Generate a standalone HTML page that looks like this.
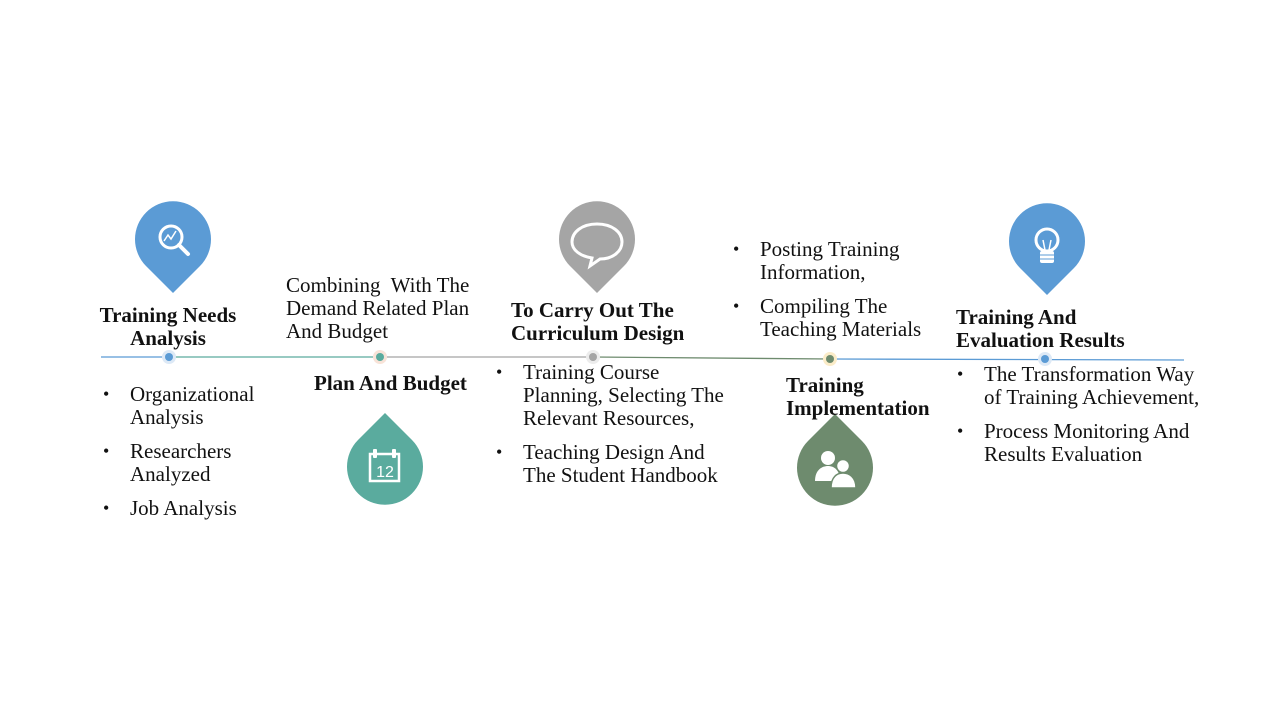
<!DOCTYPE html>
<html><head><meta charset="utf-8">
<style>
html,body{margin:0;padding:0;background:#fff;}
body{width:1280px;height:720px;position:relative;overflow:hidden;font-family:"Liberation Serif",serif;color:#111;}
.t{position:absolute;font-size:21px;line-height:23px;white-space:nowrap;}
.b{font-weight:bold;}
.li{position:absolute;font-size:21px;line-height:23px;white-space:nowrap;}
.li:before{content:"•";position:absolute;left:-27px;font-size:18px;}
svg{position:absolute;left:0;top:0;}
</style></head><body>
<svg width="1280" height="720">
  <line x1="101" y1="357" x2="169" y2="357" stroke="#5b9bd5" stroke-width="1.3"/>
  <line x1="169" y1="357" x2="380" y2="357" stroke="#5aab9e" stroke-width="1.3"/>
  <line x1="380" y1="357" x2="593" y2="357" stroke="#a5a5a5" stroke-width="1.3"/>
  <line x1="593" y1="357" x2="830" y2="359" stroke="#6e8b6e" stroke-width="1.3"/>
  <line x1="830" y1="359" x2="1184" y2="360" stroke="#5b9bd5" stroke-width="1.3"/>
  <circle cx="169" cy="357" r="7" fill="#dde9f6"/><circle cx="169" cy="357" r="4" fill="#5b9bd5"/>
  <circle cx="380" cy="357" r="7" fill="#f8e3d8"/><circle cx="380" cy="357" r="4" fill="#5aab9e"/>
  <circle cx="593" cy="357" r="7" fill="#ececec"/><circle cx="593" cy="357" r="4" fill="#a5a5a5"/>
  <circle cx="830" cy="359" r="7" fill="#fbecc8"/><circle cx="830" cy="359" r="4" fill="#6e8b6e"/>
  <circle cx="1045" cy="359" r="7" fill="#dde9f6"/><circle cx="1045" cy="359" r="4" fill="#5b9bd5"/>

  <path d="M173 293 L146 266 A38 38 0 1 1 200 266 Z" fill="#5b9bd5"/>
  <circle cx="171" cy="237" r="11" fill="none" stroke="#fff" stroke-width="3"/>
  <line x1="179" y1="245" x2="188" y2="254" stroke="#fff" stroke-width="4" stroke-linecap="round"/>
  <polyline points="164,241 168,235 171,239 176,231" fill="none" stroke="#fff" stroke-width="1.5"/>

  <path d="M597 293 L570 266 A38 38 0 1 1 624 266 Z" fill="#a5a5a5"/>
  <path d="M597 224 C612 224 622 232 622 242 C622 252 612 259 600 259 L590 266 L592 258 C580 256 572 250 572 242 C572 232 582 224 597 224 Z" fill="none" stroke="#fff" stroke-width="3"/>

  <path d="M1047 295 L1020 268 A38 38 0 1 1 1074 268 Z" fill="#5b9bd5"/>
  <circle cx="1047" cy="240" r="11" fill="none" stroke="#fff" stroke-width="3"/>
  <rect x="1040" y="251" width="14" height="12" rx="2" fill="#fff"/>
  <line x1="1040" y1="255" x2="1054" y2="255" stroke="#5b9bd5" stroke-width="1"/>
  <line x1="1040" y1="259" x2="1054" y2="259" stroke="#5b9bd5" stroke-width="1"/>
  <path d="M1043 240 L1045 250 M1051 240 L1049 250" stroke="#fff" stroke-width="1.5"/>

  <path d="M385 413 L412 440 A38 38 0 1 1 358 440 Z" fill="#5aab9e"/>
  <rect x="370" y="454" width="29" height="27" fill="none" stroke="#fff" stroke-width="2.5"/>
  <rect x="373" y="449" width="4" height="9" rx="1" fill="#fff"/><rect x="392" y="449" width="4" height="9" rx="1" fill="#fff"/>
  <text x="385" y="477" font-family="Liberation Sans, sans-serif" font-size="16" fill="#fff" text-anchor="middle">12</text>

  <path d="M835 414 L862 441 A38 38 0 1 1 808 441 Z" fill="#6e8b6e"/>
  <circle cx="828" cy="458" r="7" fill="#fff"/>
  <path d="M815 481 C815 470 822 466 828 466 C834 466 840 470 840 481 Z" fill="#fff"/>
  <circle cx="843" cy="466" r="6.5" fill="#fff" stroke="#6e8b6e" stroke-width="1.5"/>
  <path d="M831 488 C831 477 837 473 843 473 C849 473 856 477 856 488 Z" fill="#fff" stroke="#6e8b6e" stroke-width="1.5"/>
</svg>

<div class="t b" style="left:92px;top:304px;text-align:center;width:152px;">Training Needs<br>Analysis</div>
<div class="li" style="left:130px;top:383px;">Organizational<br>Analysis</div>
<div class="li" style="left:130px;top:440px;">Researchers<br>Analyzed</div>
<div class="li" style="left:130px;top:497px;">Job Analysis</div>

<div class="t" style="left:286px;top:274px;">Combining&nbsp; With The<br>Demand Related Plan<br>And Budget</div>
<div class="t b" style="left:314px;top:372px;">Plan And Budget</div>

<div class="t b" style="left:511px;top:299px;">To Carry Out The<br>Curriculum Design</div>
<div class="li" style="left:523px;top:361px;">Training Course<br>Planning, Selecting The<br>Relevant Resources,</div>
<div class="li" style="left:523px;top:441px;">Teaching Design And<br>The Student Handbook</div>

<div class="li" style="left:760px;top:238px;">Posting Training<br>Information,</div>
<div class="li" style="left:760px;top:295px;">Compiling The<br>Teaching Materials</div>
<div class="t b" style="left:786px;top:374px;">Training<br>Implementation</div>

<div class="t b" style="left:956px;top:306px;">Training And<br>Evaluation Results</div>
<div class="li" style="left:984px;top:363px;">The Transformation Way<br>of Training Achievement,</div>
<div class="li" style="left:984px;top:420px;">Process Monitoring And<br>Results Evaluation</div>
</body></html>
